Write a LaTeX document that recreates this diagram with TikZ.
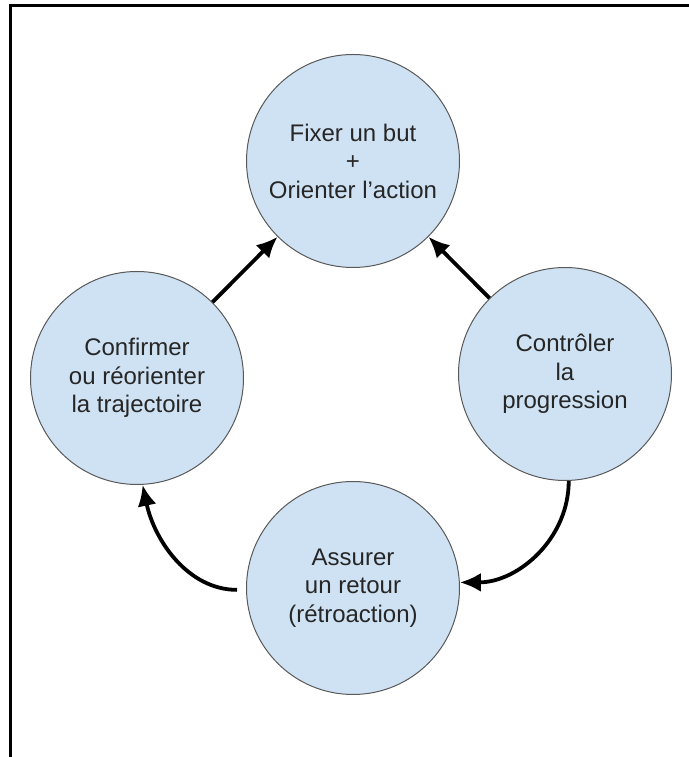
\documentclass[tikz,border=0pt]{standalone}
\usepackage{fontspec}
\setmainfont{Liberation Sans}
\usepackage{tikz}
\usetikzlibrary{arrows.meta}

\definecolor{bulle}{HTML}{CFE2F3}
\definecolor{bord}{HTML}{595959}

\begin{document}
\begin{tikzpicture}[>={Latex[length=21bp,width=19bp]},line join=bevel,
  etape/.style={circle,draw=bord,line width=1bp,fill=bulle,minimum size=213bp,
    inner sep=0pt,align=center,text=black!85,
    font=\fontsize{24bp}{28.5bp}\selectfont},
  fleche/.style={->,line width=3.8bp,black}]
\useasboundingbox (0bp,0bp) rectangle (689bp,757bp);
%%
  % Cadre
  \draw [line width=3bp,line join=miter] (10.5bp,0bp) -- (10.5bp,751.5bp) -- (689bp,751.5bp);
  % Node: but
  \node[etape] (but) at (353bp,596bp) {Fixer un but\\+\\Orienter l’action};
  % Node: trajectoire
  \node[etape] (trajectoire) at (137bp,379bp) {Confirmer\\ou réorienter\\la trajectoire};
  % Node: controle
  \node[etape] (controle) at (565bp,383bp) {Contrôler\\la\\progression};
  % Node: retour
  \node[etape] (retour) at (353bp,169bp) {Assurer\\un retour\\(rétroaction)};
  % Edge: trajectoire -> but
  \draw [fleche] (trajectoire) -- (but);
  % Edge: controle -> but
  \draw [fleche] (controle) -- (but);
  % Edge: controle -> retour
  \draw [fleche] (controle.-88) to[out=-90,in=0] (retour.3);
  % Edge: retour -> trajectoire
  \draw [fleche,shorten <=9bp] (retour.181) to[out=180,in=-78] (trajectoire.-87);
%
\end{tikzpicture}
\end{document}
